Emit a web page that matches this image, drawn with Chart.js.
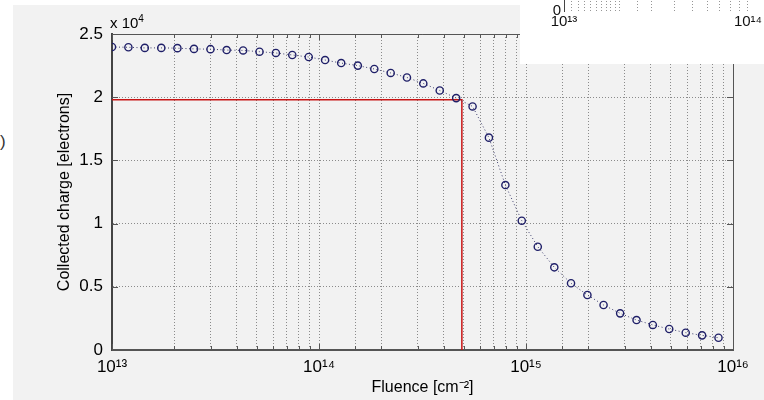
<!DOCTYPE html>
<html>
<head>
<meta charset="utf-8">
<script src="https://cdn.jsdelivr.net/npm/chart.js@4"></script>
<style>
html,body{margin:0;padding:0;background:#fff;}
body{width:764px;height:400px;position:relative;overflow:hidden;font-family:"Liberation Sans",Arial,sans-serif;}
#bg{position:absolute;left:13px;top:5px;right:0;bottom:0;background:#f2f2f2;}
#main{position:absolute;left:0;top:0;}
#scale{position:absolute;left:110px;top:15px;font-size:15px;line-height:16px;color:#000;}
#scale sup{font-size:10px;vertical-align:6px;line-height:0;}
#inset{position:absolute;left:520px;top:0;width:244px;height:64px;background:#fff;overflow:hidden;}
#insetCanvas{position:absolute;left:0;top:-50px;}
#edge{position:absolute;left:0;top:132px;font-size:17px;color:#333;}
</style>
</head>
<body>
<div id="bg"></div>
<div id="edge">)</div>
<canvas id="main" width="764" height="400"></canvas>
<div id="scale">x 10<sup>4</sup></div>
<div id="inset"><canvas id="insetCanvas" width="244" height="114"></canvas></div>
<script>
/*========== Data ==========*/

// fluence [cm^-2] of each simulated point
const fluence=[1.0e13,1.2e13,1.44e13,1.73e13,2.07e13,2.49e13,2.99e13,3.58e13,4.30e13,5.16e13,
    6.19e13,7.43e13,8.92e13,1.07e14,1.28e14,1.54e14,1.85e14,2.22e14,2.66e14,3.19e14,
    3.83e14,4.60e14,5.52e14,6.62e14,7.95e14,9.54e14,1.14e15,1.37e15,1.65e15,1.98e15,
    2.37e15,2.85e15,3.42e15,4.10e15,4.92e15,5.91e15,7.09e15,8.51e15];

// collected charge [electrons]
const charge=[23970,23950,23900,23900,23880,23820,23800,23730,23700,23600,
    23500,23340,23180,22940,22700,22500,22230,21920,21560,21090,
    20530,19930,19270,16800,13050,10230,8170,6540,5280,4350,
    3560,2900,2370,1980,1660,1370,1160,970];

// red guide: charge level and the fluence where it is reached
const markX=[1e13,4.9e14,4.9e14];
const markY=[19800,19800,0];

const FONT="'Liberation Sans', Arial, sans-serif";
const $=id=>document.getElementById(id);

/*========== Helpers ==========*/

const SUP={"0":"⁰","1":"¹","2":"²","3":"³","4":"⁴","5":"⁵","6":"⁶","7":"⁷","8":"⁸","9":"⁹","-":"⁻"};

function powerLabel(v){
    const e=Math.round(Math.log10(v));
    if(Math.abs(Math.log10(v)-e)>1e-6) return "";
    return "10"+String(e).split("").map(c=>SUP[c]).join("");
}

// matlab style box: top/right edges and inward tick marks
const axesBox={
    id:"axesBox",
    afterDraw(chart){
        const {ctx,chartArea:a,scales:{x,y}}=chart;
        ctx.save();
        ctx.strokeStyle="#555";
        ctx.lineWidth=1;
        ctx.beginPath();
        ctx.moveTo(a.left,a.top+0.5);
        ctx.lineTo(a.right+0.5,a.top+0.5);
        ctx.lineTo(a.right+0.5,a.bottom);
        x.ticks.forEach(t=>{
            const px=Math.round(x.getPixelForValue(t.value))+0.5;
            const len=powerLabel(t.value)?6:4;
            ctx.moveTo(px,a.bottom);ctx.lineTo(px,a.bottom-len);
            ctx.moveTo(px,a.top);ctx.lineTo(px,a.top+len);
        });
        y.ticks.forEach(t=>{
            const py=Math.round(y.getPixelForValue(t.value))+0.5;
            ctx.moveTo(a.left,py);ctx.lineTo(a.left+6,py);
            ctx.moveTo(a.right,py);ctx.lineTo(a.right-6,py);
        });
        ctx.stroke();
        ctx.restore();
    }
};

/*========== Main chart ==========*/

new Chart($("main"),{
    type:"scatter",
    data:{datasets:[
        {
            label:"Collected charge",
            data:fluence.map((f,i)=>({x:f,y:charge[i]})),
            showLine:true,
            borderColor:"#3c3c6c",
            borderWidth:1,
            borderDash:[1,2.5],
            pointRadius:3.6,
            pointBorderWidth:1.4,
            pointBorderColor:"#1f1f68",
            pointBackgroundColor:"rgba(0,0,0,0)",
            order:1
        },
        {
            label:"Guide",
            data:markX.map((x,i)=>({x,y:markY[i]})),
            showLine:true,
            borderColor:"#c81414",
            borderWidth:1.5,
            pointRadius:0,
            order:2
        }
    ]},
    options:{
        responsive:false,
        animation:false,
        layout:{padding:{left:0,top:34,right:31,bottom:0}},
        plugins:{legend:{display:false},tooltip:{enabled:false}},
        scales:{
            x:{
                type:"logarithmic",
                min:1e13,max:1e16,
                afterFit:s=>{s.height=50;},
                grid:{color:"rgba(70,70,70,0.6)",lineWidth:1,drawTicks:false},
                border:{display:true,color:"#555",width:2,dash:[1,2]},
                ticks:{autoSkip:false,maxRotation:0,padding:7,color:"#000",font:{size:17,family:FONT},callback:v=>powerLabel(v)},
                title:{display:true,text:"Fluence [cm⁻²]",color:"#000",font:{size:16,family:FONT},padding:{top:0,bottom:3}}
            },
            y:{
                min:0,max:25000,
                afterFit:s=>{s.width=112;},
                grid:{color:"rgba(70,70,70,0.6)",lineWidth:1,drawTicks:false},
                border:{display:true,color:"#444",width:2,dash:[1,2]},
                ticks:{stepSize:5000,padding:9,color:"#000",font:{size:17,family:FONT},callback:v=>String(v/1e4)},
                title:{display:true,text:"Collected charge [electrons]",color:"#000",font:{size:16,family:FONT},padding:{top:55,bottom:0}}
            }
        }
    },
    plugins:[axesBox]
});

/*========== Inset axis strip ==========*/

// taller canvas shifted up, so only the bottom 11px of its plot area show
new Chart($("insetCanvas"),{
    type:"scatter",
    data:{datasets:[]},
    options:{
        responsive:false,
        animation:false,
        layout:{padding:{left:0,top:0,right:15,bottom:0}},
        plugins:{legend:{display:false},tooltip:{enabled:false}},
        scales:{
            x:{
                type:"logarithmic",
                min:1e13,max:1e14,
                afterFit:s=>{s.height=53;},
                grid:{color:"rgba(80,80,80,0.6)",drawTicks:false},
                border:{display:false,dash:[1,2]},
                ticks:{autoSkip:false,maxRotation:0,padding:2,color:"#111",font:{size:15,family:FONT},callback:v=>powerLabel(v)}
            },
            y:{
                min:0,max:1,
                afterFit:s=>{s.width=44;},
                grid:{display:false,drawTicks:false},
                border:{display:true,color:"#444",width:1},
                ticks:{stepSize:1,padding:3,color:"#111",font:{size:15,family:FONT},callback:v=>v===0?"0":null}
            }
        }
    }
});
</script>
</body>
</html>
